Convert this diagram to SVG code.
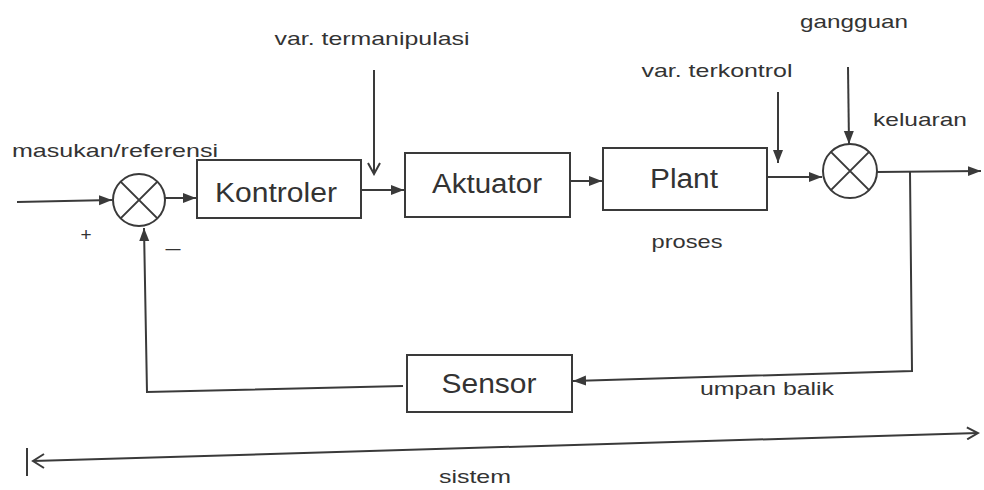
<svg xmlns="http://www.w3.org/2000/svg" width="984" height="490" viewBox="0 0 984 490">
<style>
.box{fill:#fff;stroke:#3a3a3a;stroke-width:2}
.ln{fill:none;stroke:#3a3a3a;stroke-width:2}
.big{font-family:"Liberation Sans",Arial,sans-serif;font-size:27px;fill:#333;text-anchor:middle}
.lbl{font-family:"Liberation Sans",Arial,sans-serif;font-size:19px;fill:#333;text-anchor:middle}
</style>
<defs>
<marker id="af" markerUnits="userSpaceOnUse" markerWidth="14" markerHeight="12" refX="13" refY="6" orient="auto">
<path d="M0,1 L13,6 L0,11 Z" fill="#3a3a3a"/>
</marker>
<marker id="av" markerUnits="userSpaceOnUse" markerWidth="14" markerHeight="14" refX="12" refY="7" orient="auto">
<path d="M1,1 L12,7 L1,13" fill="none" stroke="#3a3a3a" stroke-width="2"/>
</marker>
</defs>
<rect width="984" height="490" fill="#fff"/>
<g id="connectors">
<path class="ln" d="M17,202 L112,200" marker-end="url(#af)"/>
<path class="ln" d="M165,198 L196,198" marker-end="url(#af)"/>
<path class="ln" d="M361,190 L404,190" marker-end="url(#af)"/>
<path class="ln" d="M374,70 L374,174" marker-end="url(#av)"/>
<path class="ln" d="M570,181 L602,181" marker-end="url(#af)"/>
<path class="ln" d="M767,177 L822,177" marker-end="url(#af)"/>
<path class="ln" d="M778,92 L778,163" marker-end="url(#af)"/>
<path class="ln" d="M848,67 L849,144" marker-end="url(#af)"/>
<path class="ln" d="M877,172 L981,171" marker-end="url(#af)"/>
<path class="ln" d="M910,172 L912,371 L573,381" marker-end="url(#af)"/>
<path class="ln" d="M403,386 L147,392 L144,228" marker-end="url(#af)"/>
<path class="ln" d="M33,461 L978,433" marker-end="url(#av)"/>
<path class="ln" d="M44,454 L33,461 L44,468"/>
<path class="ln" d="M27,448 L27,476"/>
</g>
<g id="sum1">
<circle class="ln" cx="139" cy="200" r="26"/>
<path class="ln" d="M120.6,181.6 L157.4,218.4 M157.4,181.6 L120.6,218.4"/>
</g>
<g id="sum2">
<circle class="ln" cx="850" cy="171" r="27"/>
<path class="ln" d="M830.9,151.9 L869.1,190.1 M869.1,151.9 L830.9,190.1"/>
</g>
<g id="kontroler">
<rect class="box" x="197" y="160" width="164" height="58"/>
<text class="big" x="276" y="202" textLength="122" lengthAdjust="spacingAndGlyphs">Kontroler</text>
</g>
<g id="aktuator">
<rect class="box" x="405" y="153" width="165" height="64"/>
<text class="big" x="487" y="193" textLength="110" lengthAdjust="spacingAndGlyphs">Aktuator</text>
</g>
<g id="plant">
<rect class="box" x="603" y="148" width="164" height="62"/>
<text class="big" x="684" y="188" textLength="68" lengthAdjust="spacingAndGlyphs">Plant</text>
</g>
<g id="sensor">
<rect class="box" x="407" y="355" width="165" height="57"/>
<text class="big" x="489" y="393" textLength="95" lengthAdjust="spacingAndGlyphs">Sensor</text>
</g>
<g id="labels">
<text class="lbl" x="115" y="157" textLength="206" lengthAdjust="spacingAndGlyphs">masukan/referensi</text>
<text class="lbl" x="372" y="45" textLength="195" lengthAdjust="spacingAndGlyphs">var. termanipulasi</text>
<text class="lbl" x="717" y="77" textLength="151" lengthAdjust="spacingAndGlyphs">var. terkontrol</text>
<text class="lbl" x="854" y="28" textLength="108" lengthAdjust="spacingAndGlyphs">gangguan</text>
<text class="lbl" x="920" y="126" textLength="94" lengthAdjust="spacingAndGlyphs">keluaran</text>
<text class="lbl" x="687" y="248" textLength="71" lengthAdjust="spacingAndGlyphs">proses</text>
<text class="lbl" x="767" y="395" textLength="134" lengthAdjust="spacingAndGlyphs">umpan balik</text>
<text class="lbl" x="475" y="483" textLength="72" lengthAdjust="spacingAndGlyphs">sistem</text>
<text class="lbl" x="86" y="241" font-size="22">+</text>
<text class="lbl" x="173" y="256" textLength="18" lengthAdjust="spacingAndGlyphs">−</text>
</g>
</svg>
